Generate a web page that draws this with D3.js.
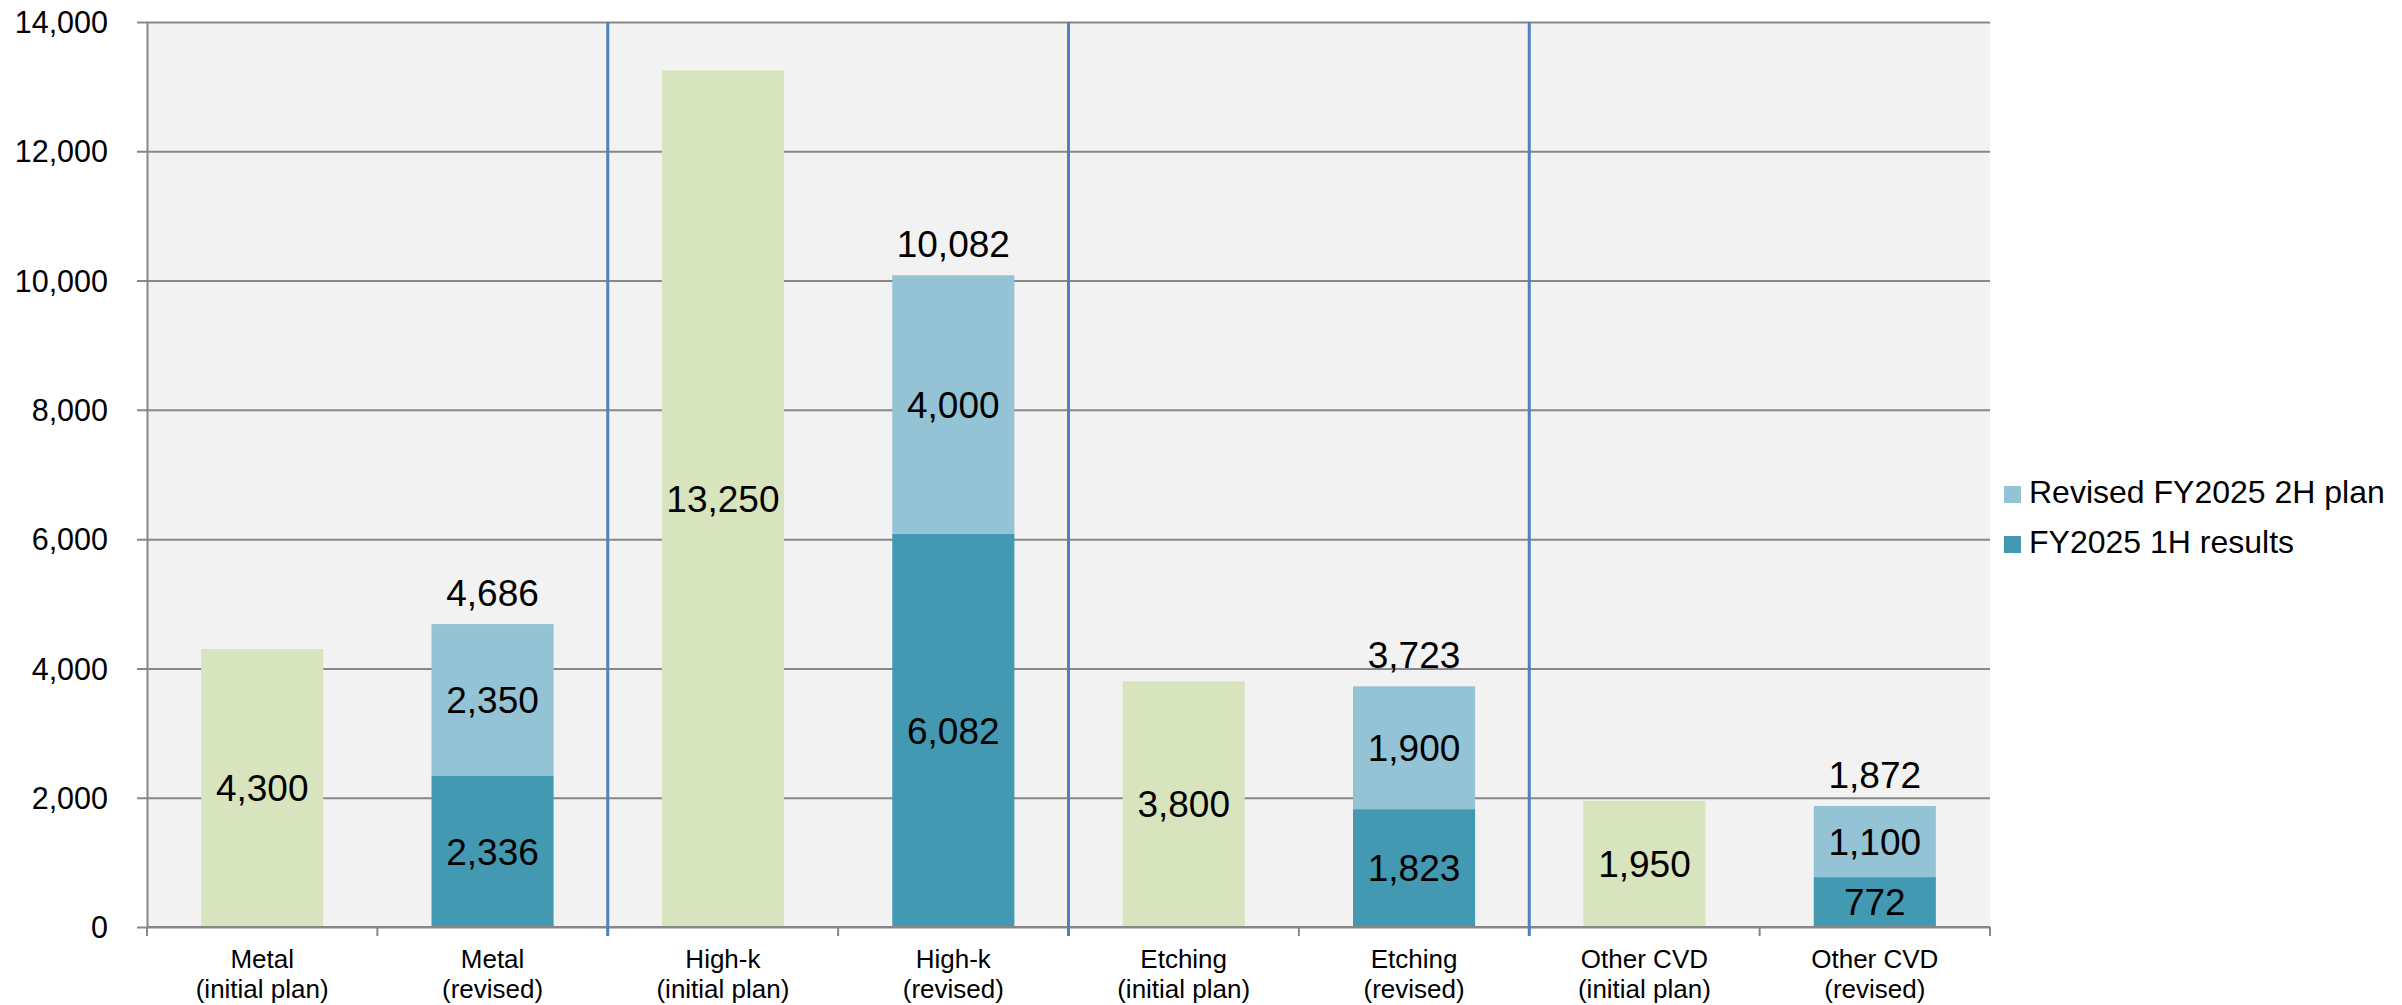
<!DOCTYPE html>
<html>
<head>
<meta charset="utf-8">
<script src="https://cdn.jsdelivr.net/npm/d3@7"></script>
<style>
  html, body { margin: 0; padding: 0; background: #fff; }
  svg { display: block; font-family: "Liberation Sans", Arial, sans-serif; }
</style>
</head>
<body>
<svg id="chart" width="2402" height="1005"></svg>
<script>
// Categories (two-line axis labels)
const categories = [
  "Metal|(initial plan)", "Metal|(revised)",
  "High-k|(initial plan)", "High-k|(revised)",
  "Etching|(initial plan)", "Etching|(revised)",
  "Other CVD|(initial plan)", "Other CVD|(revised)"
];
// Series values
const initialPlan = [4300, null, 13250, null, 3800, null, 1950, null];
const results1H   = [null, 2336, null, 6082, null, 1823, null, 772];
const plan2H      = [null, 2350, null, 4000, null, 1900, null, 1100];
// Y axis ticks
const yTicks = [0, 2000, 4000, 6000, 8000, 10000, 12000, 14000];
// Legend entries
const legendLabels = ["Revised FY2025 2H plan", "FY2025 1H results"];
// Group boundaries (index of first category of each new group)
const groupStarts = [2, 4, 6];

const colors = {
  initial: "#d8e4bd",
  plan2H: "#93c3d5",
  results: "#4399b1",
  grid: "#878787",
  divider: "#4f81bd",
  plotBg: "#f2f2f2"
};

const svg = d3.select("#chart");
const plot = { left: 147, right: 1990, top: 22, bottom: 927 };

const x = d3.scaleBand()
  .domain(categories)
  .range([plot.left, plot.right])
  .paddingInner(0.47)
  .paddingOuter(0.235);

const y = d3.scaleLinear()
  .domain([0, 14000])
  .range([plot.bottom, plot.top]);

// Plot background
svg.append("rect")
  .attr("x", plot.left).attr("y", plot.top)
  .attr("width", plot.right - plot.left)
  .attr("height", plot.bottom - plot.top)
  .attr("fill", colors.plotBg);

// Horizontal gridlines + y axis
const yAxis = d3.axisLeft(y)
  .tickValues(yTicks)
  .tickSize(-(plot.right - plot.left))
  .tickSizeOuter(0)
  .tickPadding(0)
  .tickFormat(d3.format(","));

const gy = svg.append("g")
  .attr("transform", `translate(${plot.left},0)`)
  .call(yAxis);
gy.select(".domain").attr("stroke", colors.grid).attr("stroke-width", 2);
gy.selectAll(".tick line")
  .attr("x1", -10)
  .attr("stroke", colors.grid).attr("stroke-width", 2);
gy.selectAll(".tick text")
  .attr("x", -39)
  .attr("dy", "0.35em")
  .attr("fill", "#000")
  .style("font-size", "30.5px")
  .style("font-family", "'Liberation Sans', Arial, sans-serif");

// Bars: initial plan
const step = x.step();
const gap = (step - x.bandwidth()) / 2;

svg.append("g").selectAll("rect")
  .data(categories.map((c, i) => ({ c, v: initialPlan[i] })).filter(d => d.v != null))
  .join("rect")
  .attr("x", d => x(d.c))
  .attr("width", x.bandwidth())
  .attr("y", d => y(d.v))
  .attr("height", d => y(0) - y(d.v))
  .attr("fill", colors.initial);

// Stacked revised bars
const revised = categories.map((c, i) => ({ c, r: results1H[i], p: plan2H[i] }))
  .filter(d => d.r != null);

svg.append("g").selectAll("rect")
  .data(revised)
  .join("rect")
  .attr("x", d => x(d.c))
  .attr("width", x.bandwidth())
  .attr("y", d => y(d.r))
  .attr("height", d => y(0) - y(d.r))
  .attr("fill", colors.results);

svg.append("g").selectAll("rect")
  .data(revised)
  .join("rect")
  .attr("x", d => x(d.c))
  .attr("width", x.bandwidth())
  .attr("y", d => y(d.r + d.p))
  .attr("height", d => y(d.r) - y(d.r + d.p))
  .attr("fill", colors.plan2H);

// X axis baseline with category-boundary ticks
svg.append("line")
  .attr("x1", plot.left).attr("x2", plot.right)
  .attr("y1", plot.bottom).attr("y2", plot.bottom)
  .attr("stroke", colors.grid).attr("stroke-width", 2);

const boundaries = categories.map(c => x(c) - gap).concat([plot.right]);
svg.append("g").selectAll("line")
  .data(boundaries)
  .join("line")
  .attr("x1", d => d).attr("x2", d => d)
  .attr("y1", plot.bottom).attr("y2", plot.bottom + 9)
  .attr("stroke", colors.grid).attr("stroke-width", 2);

// Group dividers
svg.append("g").selectAll("line")
  .data(groupStarts)
  .join("line")
  .attr("x1", i => x(categories[i]) - gap)
  .attr("x2", i => x(categories[i]) - gap)
  .attr("y1", plot.top).attr("y2", plot.bottom + 9)
  .attr("stroke", colors.divider).attr("stroke-width", 3);

// Category labels
const catLabels = svg.append("g").selectAll("text")
  .data(categories)
  .join("text")
  .attr("x", d => x(d) + x.bandwidth() / 2)
  .attr("y", 968)
  .attr("text-anchor", "middle")
  .style("font-size", "26px")
  .attr("fill", "#000");
catLabels.each(function(d) {
  const parts = d.split("|");
  const t = d3.select(this);
  parts.forEach((p, k) => {
    t.append("tspan")
      .attr("x", x(d) + x.bandwidth() / 2)
      .attr("dy", k === 0 ? 0 : 30)
      .text(p);
  });
});

// Value labels
const fmt = d3.format(",");
const labels = [];
categories.forEach((c, i) => {
  const cx = x(c) + x.bandwidth() / 2;
  if (initialPlan[i] != null) {
    labels.push({ x: cx, y: (y(0) + y(initialPlan[i])) / 2, v: initialPlan[i], mid: true });
  }
  if (results1H[i] != null) {
    const r = results1H[i], p = plan2H[i];
    labels.push({ x: cx, y: (y(0) + y(r)) / 2, v: r, mid: true });
    labels.push({ x: cx, y: (y(r) + y(r + p)) / 2, v: p, mid: true });
    labels.push({ x: cx, y: y(r + p) - 18, v: r + p, mid: false });
  }
});

svg.append("g").selectAll("text")
  .data(labels)
  .join("text")
  .attr("x", d => d.x)
  .attr("y", d => d.y)
  .attr("dy", d => d.mid ? "0.36em" : 0)
  .attr("text-anchor", "middle")
  .style("font-size", "37px")
  .attr("fill", "#000")
  .text(d => fmt(d.v));

// Legend
const legendColors = [colors.plan2H, colors.results];
const lg = svg.append("g").selectAll("g")
  .data(legendLabels)
  .join("g")
  .attr("transform", (d, i) => `translate(2004, ${486 + i * 50})`);
lg.append("rect")
  .attr("width", 17).attr("height", 17)
  .attr("fill", (d, i) => legendColors[i]);
lg.append("text")
  .attr("x", 25).attr("y", 17)
  .style("font-size", "32px")
  .attr("fill", "#000")
  .text(d => d);
</script>
</body>
</html>
